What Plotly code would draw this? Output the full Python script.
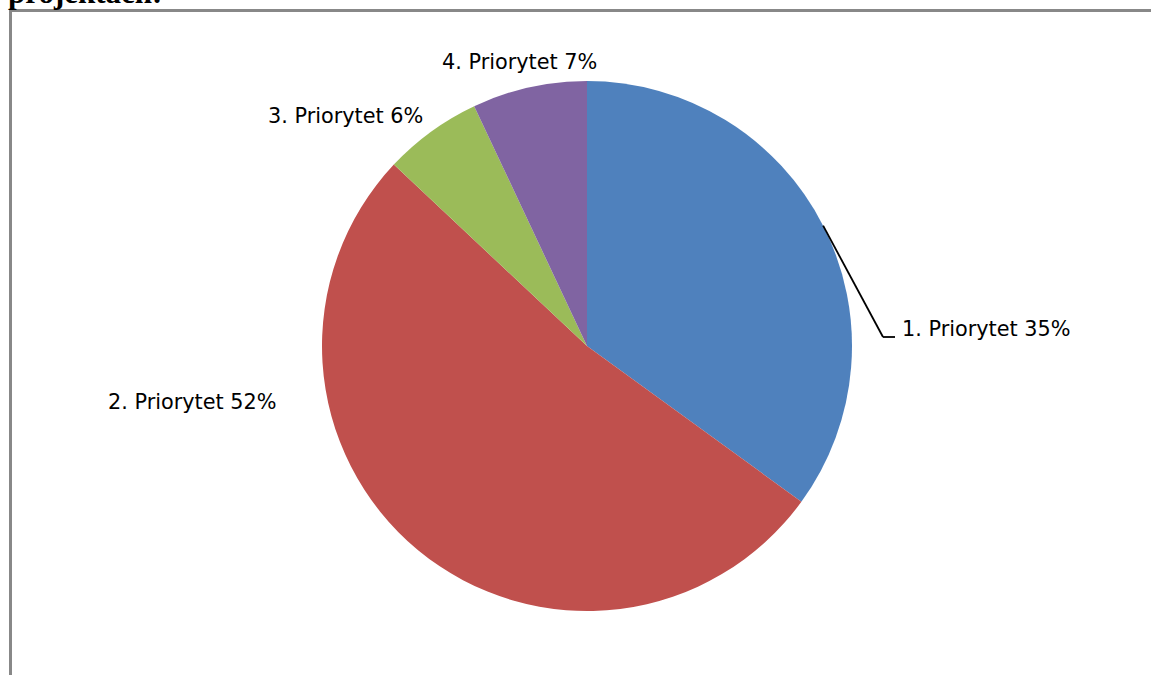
import math
import plotly.graph_objects as go

labels = ["1. Priorytet", "2. Priorytet", "3. Priorytet", "4. Priorytet"]
values = [35, 52, 6, 7]
colors = ["#4F81BD", "#C0504D", "#9BBB59", "#8064A2"]
heading = "projektach:"

W, H = 1151, 675
cx, cy, r = 587, 346, 265

def px(x):
    return x / W

def py(y):
    return 1 - y / H

fig = go.Figure(go.Pie(
    labels=labels,
    values=values,
    sort=False,
    direction="clockwise",
    rotation=0,
    marker=dict(colors=colors, line=dict(width=0)),
    textinfo="none",
    hoverinfo="label+percent",
    showlegend=False,
    domain=dict(x=[px(cx - r), px(cx + r)], y=[py(cy + r), py(cy - r)]),
))

total = sum(values)
label_pos = [(985.5, 329), (191.5, 402), (345.5, 116), (519.5, 62)]
font = dict(family="'DejaVu Sans', sans-serif", size=20.8, color="#000000")
annotations = []
for (lab, v, (lx, ly)) in zip(labels, values, label_pos):
    annotations.append(dict(
        x=px(lx), y=py(ly), xref="paper", yref="paper",
        text=f"{lab} {round(v / total * 100)}%", showarrow=False,
        xanchor="center", yanchor="middle", font=font,
    ))

annotations.append(dict(
    x=px(6), y=py(12), xref="paper", yref="paper", text=f"<b>{heading}</b>",
    showarrow=False, xanchor="left", yanchor="bottom",
    font=dict(family="Liberation Serif, Times New Roman, serif", size=31, color="#000"),
))

# leader line for slice 1, starting at mid-angle of its arc
mid = values[0] / total / 2 * 2 * math.pi
sx, sy = cx + r * math.sin(mid), cy - r * math.cos(mid)
bx, by = 883, 337
ex = 895
shapes = [
    dict(type="line", xref="paper", yref="paper", x0=px(sx), y0=py(sy), x1=px(bx), y1=py(by),
         line=dict(color="#000", width=1.8)),
    dict(type="line", xref="paper", yref="paper", x0=px(bx), y0=py(by), x1=px(ex), y1=py(by),
         line=dict(color="#000", width=1.8)),
    dict(type="line", xref="paper", yref="paper", x0=px(10.5), y0=py(9), x1=px(10.5), y1=py(675),
         line=dict(color="#888888", width=3)),
    dict(type="line", xref="paper", yref="paper", x0=px(9), y0=py(10.5), x1=px(1151), y1=py(10.5),
         line=dict(color="#888888", width=3)),
]

fig.update_layout(
    width=W, height=H,
    margin=dict(l=0, r=0, t=0, b=0),
    paper_bgcolor="white", plot_bgcolor="white",
    annotations=annotations, shapes=shapes,
)

fig.write_html(
    "out.html",
    config={"displayModeBar": False},
    post_script="document.body.style.margin='0';document.body.style.overflow='hidden';",
)
